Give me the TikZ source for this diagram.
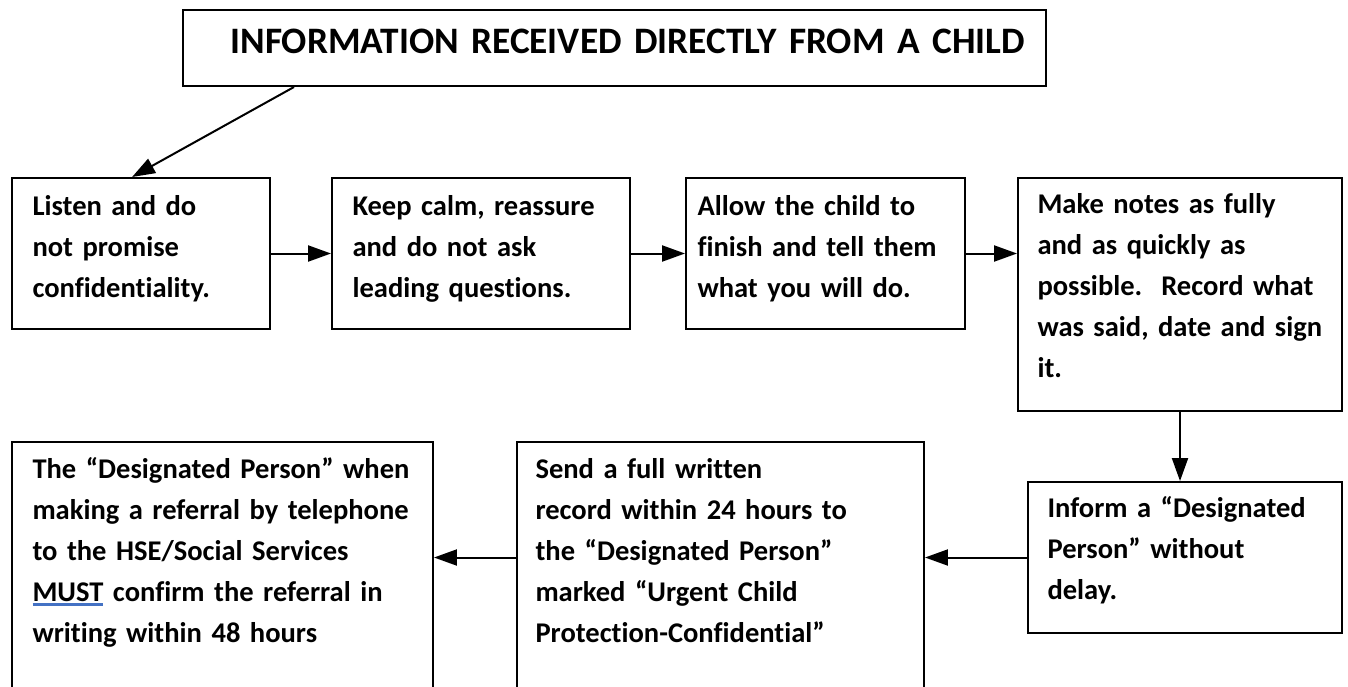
\documentclass[tikz,border=0pt]{standalone}
\usepackage{fontspec}
\setmainfont{Carlito}[Ligatures=NoCommon, WordSpace=0.8]
\usetikzlibrary{arrows.meta,positioning,calc}
\definecolor{ulblue}{RGB}{68,114,196}
\newcommand{\blueul}[1]{\leavevmode\setbox0\hbox{#1}\rlap{\color{ulblue}\rule[-1.8pt]{\wd0}{1pt}}\box0\relax}
\tikzset{
  flowbox/.style={draw, line width=0.75pt, anchor=north west, inner sep=0pt},
  boxtext/.style={anchor=base west, align=left, inner sep=0pt, text width=200pt,
    font=\fontsize{10.7}{15.375}\selectfont\bfseries},
  flowarrow/.style={line width=0.75pt, -{Triangle[length=8.6pt,width=6pt]}},
}
\begin{document}
\begin{tikzpicture}[x=0.375pt,y=-0.375pt]
%
\useasboundingbox (0,0) rectangle (1348,686);
\clip (0,0) rectangle (1348,686);
%
\node[flowbox, minimum width=323.625pt, minimum height=28.5pt] (title) at (182,9) {};
\node[boxtext, text width=400pt, font=\fontsize{14}{16}\selectfont\bfseries] (title-txt)
  at ($(title.north west)+(48,44)$) {INFORMATION RECEIVED DIRECTLY FROM A CHILD};
%
% first row
\node[flowbox, minimum width=96.75pt, minimum height=56.625pt] (listen) at (11,177) {};
\node[boxtext] (listen-txt) at ($(listen.north west)+(21,38)$)
  {Listen and do\\not promise\\confidentiality.};
\node[flowbox, minimum width=111.75pt, minimum height=56.625pt] (calm) at (331,177) {};
\node[boxtext] (calm-txt) at ($(calm.north west)+(21,38)$)
  {Keep calm, reassure\\and do not ask\\leading questions.};
\node[flowbox, minimum width=104.625pt, minimum height=56.625pt] (finish) at (685,177) {};
\node[boxtext] (finish-txt) at ($(finish.north west)+(12,38)$)
  {Allow the child to\\finish and tell them\\what you will do.};
\node[flowbox, minimum width=121.5pt, minimum height=87.375pt] (notes) at (1017,177) {};
\node[boxtext] (notes-txt) at ($(notes.north west)+(20,36)$)
  {Make notes as fully\\and as quickly as\\possible.\ \ Record what\\was said, date and sign\\it.};
\node[flowbox, minimum width=117.75pt, minimum height=56.625pt] (inform) at (1027,481) {};
\node[boxtext] (inform-txt) at ($(inform.north west)+(20,36)$)
  {Inform a “Designated\\Person” without\\delay.};
%
% second row
\node[flowbox, minimum width=152.625pt, minimum height=112.5pt] (send) at (516,441) {};
\node[boxtext] (send-txt) at ($(send.north west)+(19,37)$)
  {Send a full written\\record within 24 hours to\\the “Designated Person”\\marked “Urgent Child\\Protection-Confidential”};
\node[flowbox, minimum width=157.875pt, minimum height=112.5pt] (referral) at (11,441) {};
\node[boxtext] (referral-txt) at ($(referral.north west)+(21,37)$)
  {The “Designated Person” when\\making a referral by telephone\\to the HSE/Social Services\\\blueul{MUST} confirm the referral in\\writing within 48 hours};
%
\draw[flowarrow] ([xshift=42pt]title.south west) -- ([xshift=45.4pt]listen.north west);
\draw[flowarrow] (listen) -- (calm);
\draw[flowarrow] (calm) -- (finish);
\draw[flowarrow] (finish.east) -- (finish.east -| notes.west);
\draw[flowarrow] (notes.south) -- (notes.south |- inform.north);
\draw[flowarrow] (inform.west) -- (inform.west -| send.east);
\draw[flowarrow] (send.west |- inform.west) -- (inform.west -| referral.east);
%
\end{tikzpicture}
\end{document}
